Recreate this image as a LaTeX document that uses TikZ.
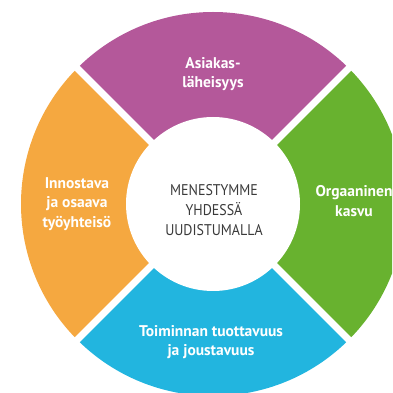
\documentclass[tikz,border=0pt]{standalone}
\usepackage{fontspec}
\setmainfont{PT Sans}
\newfontfamily\corefont[FakeStretch=0.9]{PT Sans}
\definecolor{purp}{HTML}{B4589A}
\definecolor{orng}{HTML}{F5A840}
\definecolor{grn}{HTML}{68B22F}
\definecolor{blu}{HTML}{22B5DF}
\definecolor{dark}{HTML}{3A3A3A}
\tikzset{
  seglabel/.style={text=white, align=center, font=\bfseries\fontsize{15.5}{19.5}\selectfont, inner sep=0pt},
  corelabel/.style={text=dark, align=center, font=\corefont\fontsize{15.5}{20}\selectfont, inner sep=0pt},
  gapline/.style={white, line width=7pt}
}
\begin{document}
\begin{tikzpicture}[x=1pt,y=1pt]
\useasboundingbox (0,0) rectangle (392,393);
\coordinate (c) at (213,189);
\begin{scope}
\clip (0,0) rectangle (392,393);
\fill[purp] (c) -- ++(45:192) arc[start angle=45,end angle=135,radius=192] -- cycle;
\fill[orng] (c) -- ++(135:192) arc[start angle=135,end angle=225,radius=192] -- cycle;
\fill[blu] (c) -- ++(225:192) arc[start angle=225,end angle=315,radius=192] -- cycle;
\fill[grn] (c) -- ++(315:192) arc[start angle=315,end angle=405,radius=192] -- cycle;
\draw[gapline] (c) ++(45:200) -- ++(225:400);
\draw[gapline] (c) ++(135:200) -- ++(315:400);
\fill[white] (c) circle (87);
\end{scope}
\begin{scope}
\clip (0,0) rectangle (392,393);
\node[seglabel] (top) at (213,319) {Asiakas-\\läheisyys};
\node[seglabel] (left) at (77,189) {Innostava\\ja osaava\\työyhteisö};
\node[seglabel] (right) at (354,192) {Orgaaninen\\kasvu};
\node[seglabel] (bottom) at (211,51) {Toiminnan tuottavuus\\ja joustavuus};
\node[corelabel] (core) at (214,183) {MENESTYMME\\YHDESSÄ\\UUDISTUMALLA};
\end{scope}
\end{tikzpicture}
\end{document}
